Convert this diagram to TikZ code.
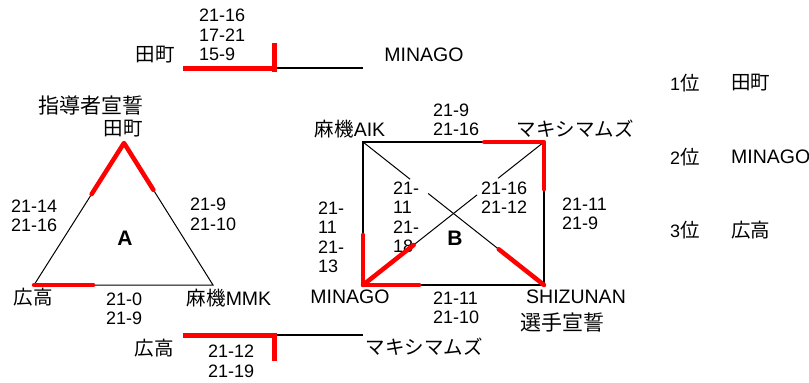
\documentclass[tikz,border=0pt]{standalone}
\usepackage{fontspec}
\setmainfont{Liberation Sans}
\newfontfamily\jpfont{Noto Sans CJK JP}
\usetikzlibrary{calc}
\newcommand\jtxt[1]{{\jpfont\fontsize{19.5}{19.5}\selectfont #1}}
\newcommand\jbig[1]{{\jpfont\fontsize{21}{21}\selectfont #1}}
\tikzset{
  lab/.style={inner sep=0pt, font=\fontsize{18}{19.5}\selectfont, align=left},
  namelab/.style={inner sep=0pt, font=\fontsize{19.5}{19.5}\selectfont},
  boldlab/.style={inner sep=0pt, font=\fontsize{21}{21}\selectfont\bfseries},
  thinl/.style={black, line width=1pt},
  thickl/.style={black, line width=2pt},
  win/.style={red, line width=4.5pt, line cap=round, line join=round},
  winbr/.style={red, line width=5pt},
}
\begin{document}
\begin{tikzpicture}[x=1pt,y=-1pt]
\useasboundingbox (0,0) rectangle (809,383);

% ---------- top bracket ----------
\coordinate (ta) at (183,68);
\coordinate (tb) at (274.5,68);
\coordinate (tc) at (363,68);
\coordinate (tu) at (274.5,43);
\coordinate (td) at (274.5,72);
\draw[thickl] (tb) -- (tc);
\draw[winbr] (ta) -- (tb);
\draw[winbr] (tu) -- (td);
\node[lab] (tA) at (155,55) {\jtxt{田町}};
\node[namelab] (tB) at (424,55) {MINAGO};
\node[lab,anchor=west] (tS) at (199,35) {21-16\\17-21\\15-9};

% ---------- triangle A ----------
\coordinate (A1) at (124,143);
\coordinate (A2) at (34,285);
\coordinate (A3) at (213,285);
\draw[thinl] (A1) -- (A2) -- (A3) -- cycle;
\draw[win] ($(A1)!0.36!(A2)$) -- (A1) -- ($(A1)!0.33!(A3)$);
\draw[win] (A2) -- ($(A2)!0.33!(A3)$);
\node[lab] (aHead) at (91,105) {\jbig{指導者宣誓}};
\node[lab] (aT) at (123,129) {\jtxt{田町}};
\node[lab,anchor=west] (aSL) at (11,216) {21-14\\21-16};
\node[lab,anchor=west] (aSR) at (190,214.5) {21-9\\21-10};
\node[boldlab] (aLab) at (125,238) {A};
\node[lab] (aL) at (33,297) {\jtxt{広高}};
\node[lab,anchor=west] (aSB) at (106,309) {21-0\\21-9};
\node[namelab] (aR) at (229,298) {\jtxt{麻機}MMK};

% ---------- rectangle B ----------
\coordinate (B1) at (363,142);
\coordinate (B2) at (544,142);
\coordinate (B3) at (544,285);
\coordinate (B4) at (363,285);
\draw[thickl] (B1) rectangle (B3);
\draw[thinl] (B1) -- ($(B1)!0.26!(B3)$);
\draw[thinl] ($(B1)!0.36!(B3)$) -- (B3);
\draw[thinl] (B4) -- ($(B4)!0.63!(B2)$);
\draw[thinl] ($(B4)!0.746!(B2)$) -- (B2);
\node[namelab] (bTL) at (350,129) {\jtxt{麻機}AIK};
\node[lab,anchor=west] (bST) at (433,120) {21-9\\21-16};
\node[lab] (bTR) at (575,129) {\jtxt{マキシマムズ}};
\node[lab,anchor=west] (bSR) at (562,214) {21-11\\21-9};
\node[lab,anchor=west] (bSL) at (318,237.5) {21-\\11\\21-\\13};
\node[lab,anchor=west] (bSX1) at (393,217.5) {21-\\11\\21-\\18};
\node[lab,anchor=west] (bSX2) at (481,197.5) {21-16\\21-12};
\node[boldlab] (bLab) at (455,238) {B};
\node[namelab] (bBL) at (350,297) {MINAGO};
\node[lab,anchor=west] (bSB) at (433,308) {21-11\\21-10};
\node[namelab] (bBR) at (576,297) {SHIZUNAN};
\node[lab] (bOath) at (562,323) {\jbig{選手宣誓}};
\draw[win] ($(B1)!0.67!(B2)$) -- (B2) -- ($(B2)!0.33!(B3)$);
\draw[win] ($(B4)!0.35!(B1)$) -- (B4) -- ($(B4)!0.31!(B3)$);
\draw[win] (B4) -- ($(B4)!0.28!(B2)$);
\draw[win] ($(B3)!0.25!(B1)$) -- (B3);

% ---------- bottom bracket ----------
\coordinate (ca) at (183,335.5);
\coordinate (cb) at (274.5,335.5);
\coordinate (cb2) at (277,334.5);
\coordinate (cc) at (363,334.5);
\coordinate (cu) at (274.5,333);
\coordinate (cd) at (274.5,361);
\draw[thickl] (cb2) -- (cc);
\draw[winbr] (ca) -- (cb);
\draw[winbr] (cu) -- (cd);
\node[lab] (cL) at (154,348) {\jtxt{広高}};
\node[lab,anchor=west] (cS) at (208,361.5) {21-12\\21-19};
\node[lab] (cR) at (424,347) {\jtxt{マキシマムズ}};

% ---------- ranking ----------
\node[lab,anchor=west] (r1) at (670,83) {1\jtxt{位}};
\node[lab,anchor=west] (r1n) at (731,83) {\jtxt{田町}};
\node[lab,anchor=west] (r2) at (670,157) {2\jtxt{位}};
\node[namelab,anchor=west] (r2n) at (731,157) {MINAGO};
\node[lab,anchor=west] (r3) at (670,230) {3\jtxt{位}};
\node[lab,anchor=west] (r3n) at (731,230) {\jtxt{広高}};
\end{tikzpicture}
\end{document}
